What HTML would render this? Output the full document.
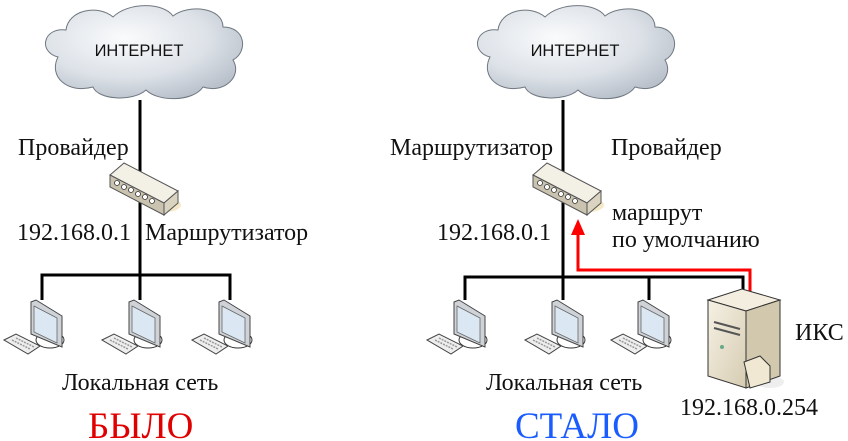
<!DOCTYPE html>
<html><head><meta charset="utf-8"><style>
html,body{margin:0;padding:0;background:#fff;}
svg{display:block;}
.t{font-family:'Times New Roman','Liberation Serif','DejaVu Serif','Noto Serif CJK SC',serif;font-size:24px;fill:#111;}
.c{font-family:'Liberation Sans','DejaVu Sans',sans-serif;font-size:16.5px;fill:#111;}
</style></head><body>
<svg width="848" height="441" viewBox="0 0 848 441" xmlns="http://www.w3.org/2000/svg">
<defs>
<radialGradient id="cg" cx="0.4" cy="0.35" r="0.7">
<stop offset="0" stop-color="#fafbfc"/><stop offset="0.6" stop-color="#dde2e8"/><stop offset="1" stop-color="#b8c0ca"/>
</radialGradient>
<linearGradient id="sg" x1="0" y1="0" x2="1" y2="1">
<stop offset="0" stop-color="#f6f1e4"/><stop offset="1" stop-color="#d6ccb2"/>
</linearGradient>
<g id="cloud">
<path d="M20,55 C0,50 5,25 28,28 C30,8 60,2 75,15 C90,0 125,0 135,14 C150,2 185,5 185,25 C208,25 210,50 195,58 C205,75 185,92 165,85 C155,100 120,100 108,88 C95,100 60,98 55,85 C30,92 10,75 20,55 Z" fill="url(#cg)" stroke="#6f7780" stroke-width="1"/>
</g>
<g id="router">
<ellipse cx="55" cy="42" rx="16" ry="7" fill="#f3e2b8" opacity="0.8"/>
<polygon points="0,12 14,0 68,28 54,40" fill="#f3f0e6" stroke="#555" stroke-width="1"/>
<polygon points="54,40 68,28 68,40 54,52" fill="#d9d3c0" stroke="#555" stroke-width="1"/>
<polygon points="0,12 54,40 54,52 0,24" fill="#c9c3b0" stroke="#555" stroke-width="1"/>
<g fill="#fff" stroke="#333" stroke-width="0.8">
<circle cx="7" cy="20" r="2.5"/><circle cx="14" cy="24" r="2.5"/><circle cx="21" cy="27" r="2.5"/><circle cx="28" cy="31" r="2.5"/><circle cx="35" cy="34" r="2.5"/><circle cx="42" cy="38" r="2.5"/>
</g>
</g>
<g id="pc">
<ellipse cx="8" cy="38" rx="14" ry="8" fill="#fff" stroke="#333" stroke-width="1"/>
<polygon points="-11,0 -6,-2 20,14 20,45 -11,32" fill="#cfd3d8" stroke="#444" stroke-width="1"/>
<polygon points="-8,4 15,16 15,41 -8,30" fill="#dbe8f3" stroke="#666" stroke-width="0.8"/>
<polygon points="-38,38 -26,32 -2,44 -14,52" fill="#eee" stroke="#444" stroke-width="1"/>
<line x1="-30" y1="38" x2="-12" y2="47" stroke="#999" stroke-width="1.5" stroke-dasharray="2,1"/>
<line x1="-26" y1="36" x2="-8" y2="45" stroke="#999" stroke-width="1.5" stroke-dasharray="2,1"/>
</g>
</defs>

<use href="#cloud" x="38" y="2"/>
<text x="139" y="56" class="c" text-anchor="middle">ИНТЕРНЕТ</text>
<line x1="140" y1="100" x2="140" y2="276" stroke="#000" stroke-width="3"/>
<use href="#router" x="110" y="163"/>
<text x="18" y="155" class="t">Провайдер</text>
<text x="17" y="240" class="t">192.168.0.1</text>
<text x="145" y="240" class="t">Маршрутизатор</text>
<polyline points="42,300 42,275 230,275 230,300" fill="none" stroke="#000" stroke-width="3"/>
<line x1="140" y1="275" x2="140" y2="300" stroke="#000" stroke-width="3"/>
<use href="#pc" x="42" y="302"/>
<use href="#pc" x="140" y="302"/>
<use href="#pc" x="230" y="302"/>
<text x="62" y="390" class="t">Локальная сеть</text>
<text x="88" y="438" class="t" style="font-size:37px;fill:#e00000">БЫЛО</text>

<use href="#cloud" x="470" y="2"/>
<text x="575" y="56" class="c" text-anchor="middle">ИНТЕРНЕТ</text>
<line x1="563" y1="100" x2="563" y2="278" stroke="#000" stroke-width="3"/>
<use href="#router" x="533" y="163"/>
<text x="390" y="155" class="t">Маршрутизатор</text>
<text x="611" y="155" class="t">Провайдер</text>
<text x="612" y="220" class="t">маршрут</text>
<text x="612" y="247" class="t">по умолчанию</text>
<text x="437" y="240" class="t">192.168.0.1</text>
<polyline points="465,300 465,277 743,277 743,292" fill="none" stroke="#000" stroke-width="3"/>
<line x1="563" y1="277" x2="563" y2="300" stroke="#000" stroke-width="3"/>
<line x1="649" y1="277" x2="649" y2="300" stroke="#000" stroke-width="3"/>
<polyline points="750,292 750,270 578,270 578,232" fill="none" stroke="#f00" stroke-width="3"/>
<polygon points="578,219 571,235 585,235" fill="#f00"/>
<use href="#pc" x="465" y="302"/>
<use href="#pc" x="563" y="302"/>
<use href="#pc" x="649" y="302"/>
<ellipse cx="770" cy="382" rx="14" ry="6" fill="#eee"/>
<polygon points="708,300 742,289 780,300 746,311" fill="#f3eee0" stroke="#333" stroke-width="1"/>
<polygon points="746,311 780,300 780,376 746,388" fill="#d2c8ad" stroke="#333" stroke-width="1"/>
<polygon points="708,300 746,311 746,388 708,376" fill="url(#sg)" stroke="#333" stroke-width="1"/>
<line x1="714" y1="322" x2="740" y2="329" stroke="#555" stroke-width="2"/>
<line x1="714" y1="328" x2="740" y2="335" stroke="#555" stroke-width="2"/>
<circle cx="722" cy="347" r="2" fill="#6a8"/>
<polygon points="744,362 760,356 770,366 770,382 750,388" fill="#f0e8d2" stroke="#333" stroke-width="1"/>
<text x="795" y="340" class="t">ИКС</text>
<text x="680" y="415" class="t">192.168.0.254</text>
<text x="486" y="390" class="t">Локальная сеть</text>
<text x="515" y="438" class="t" style="font-size:37px;fill:#1a5cff">СТАЛО</text>
</svg>
</body></html>
